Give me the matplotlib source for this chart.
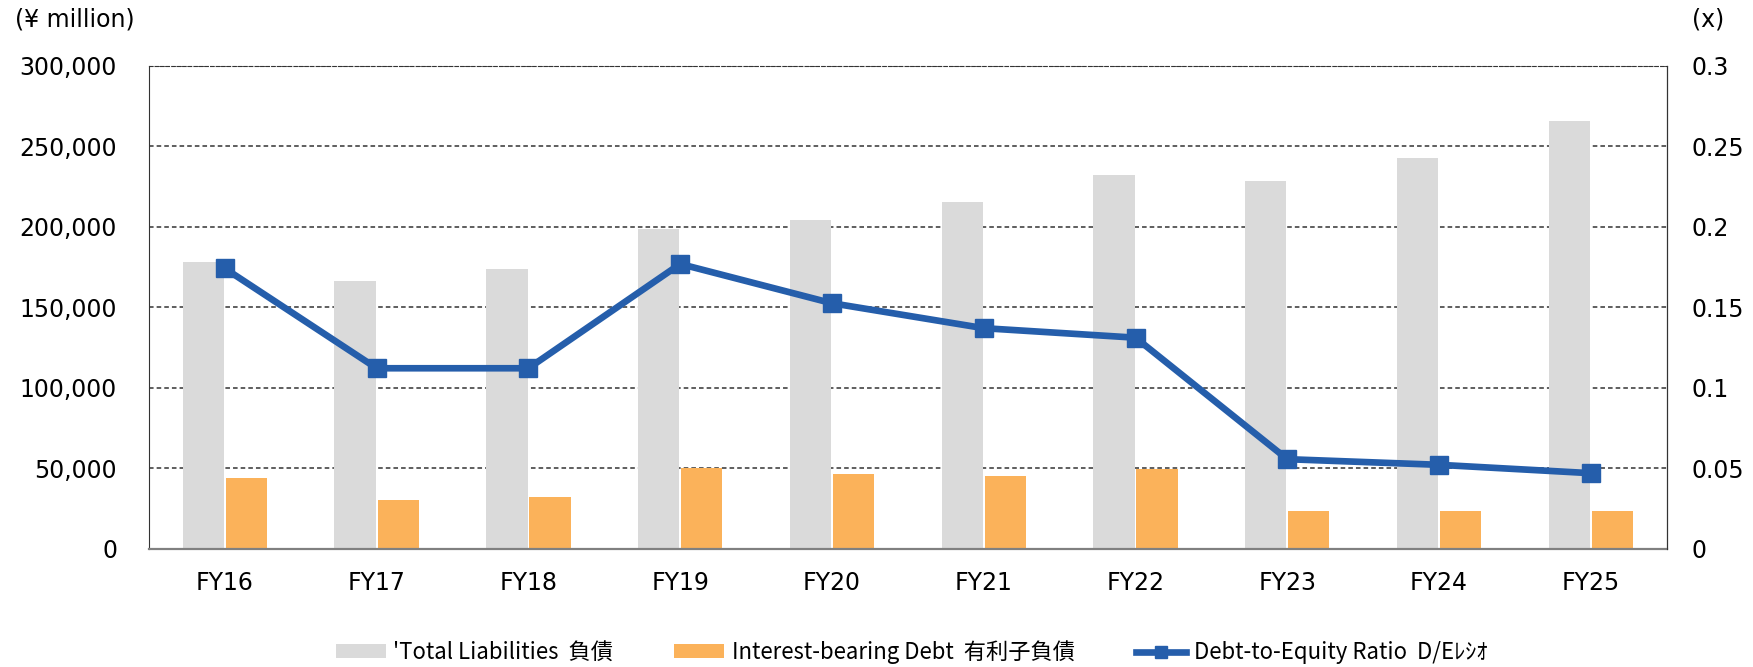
import numpy as np
import matplotlib as mpl
mpl.use('Agg')
import matplotlib.pyplot as plt
from matplotlib.ticker import FuncFormatter

years = ["FY16", "FY17", "FY18", "FY19", "FY20", "FY21", "FY22", "FY23", "FY24", "FY25"]
total_liab = [178300, 166100, 173700, 198400, 204200, 215500, 231900, 228200, 242700, 265800]
int_debt = [44100, 30000, 32100, 50100, 46400, 45200, 49500, 23600, 23600, 23600]
de_ratio = [0.174, 0.112, 0.112, 0.1768, 0.1524, 0.1369, 0.131, 0.0555, 0.052, 0.0468]

labels = ["'Total Liabilities  負債", "Interest-bearing Debt  有利子負債", "Debt-to-Equity Ratio  D/Eﾚｼｵ"]

gray = "#DADADA"
orange = "#FBB25A"
blue = "#255EAB"
leg_font = ["Liberation Sans Narrow", "Noto Sans CJK JP", "DejaVu Sans"]

mpl.rcParams.update({'font.size': 17, 'font.family': 'DejaVu Sans'})

fig = plt.figure(figsize=(17.53, 6.67), dpi=100)
ax = fig.add_axes([149/1753, 1 - 548.5/667, (1666.7-149)/1753, (548.5-65.7)/667])
x = np.arange(len(years))
w = 0.272
b1 = ax.bar(x - 0.142, total_liab, w, color=gray, zorder=2)
b2 = ax.bar(x + 0.142, int_debt, w, color=orange, zorder=2)
ax.set_xlim(-0.5, len(years) - 0.5)
ax.set_ylim(0, 300000)
ax.set_yticks(np.arange(0, 300001, 50000))
ax.yaxis.set_major_formatter(FuncFormatter(lambda v, p: "{:,.0f}".format(v)))
ax.set_xticks(x)
ax.set_xticklabels(years)
ax.set_axisbelow(True)
ax.yaxis.grid(True, linestyle=(0, (3, 2)), color="#333333", linewidth=1.1)
# pads are in points
ax.tick_params(axis='y', length=0, pad=23)
ax.tick_params(axis='x', length=0, pad=16.5)
ax.spines['top'].set_linestyle((0, (3, 2)))
ax.spines['top'].set_color("#333333")
ax.spines['left'].set_color("#333333")
ax.spines['bottom'].set_color("#808080")
ax.spines['bottom'].set_linewidth(1.6)

ax2 = ax.twinx()
ln, = ax2.plot(x, de_ratio, color=blue, linewidth=4.8, marker='s', markersize=13, zorder=5)
ax2.set_ylim(0, 0.3)
ax2.set_yticks([0, 0.05, 0.1, 0.15, 0.2, 0.25, 0.3])
ax2.set_yticklabels(["0", "0.05", "0.1", "0.15", "0.2", "0.25", "0.3"])
ax2.tick_params(axis='y', length=0, pad=17.5)
ax2.spines['top'].set_visible(False)
ax2.spines['bottom'].set_visible(False)
ax2.spines['left'].set_visible(False)
ax2.spines['right'].set_color("#333333")

fig.text(15/1753, 1 - 20/667, "(¥ million)", ha='left', va='center', fontsize=17)
fig.text(1692/1753, 1 - 20/667, "(x)", ha='left', va='center', fontsize=17)

fig.legend([b1, b2, ln], labels, loc='center', bbox_to_anchor=(0.52, 1 - 652/667), ncol=3,
           frameon=False, prop={'family': leg_font, 'size': 16}, handlelength=2.25,
           handleheight=0.55, columnspacing=2.75, handletextpad=0.35, markerscale=0.7)

plt.savefig("out.png", dpi=100)
